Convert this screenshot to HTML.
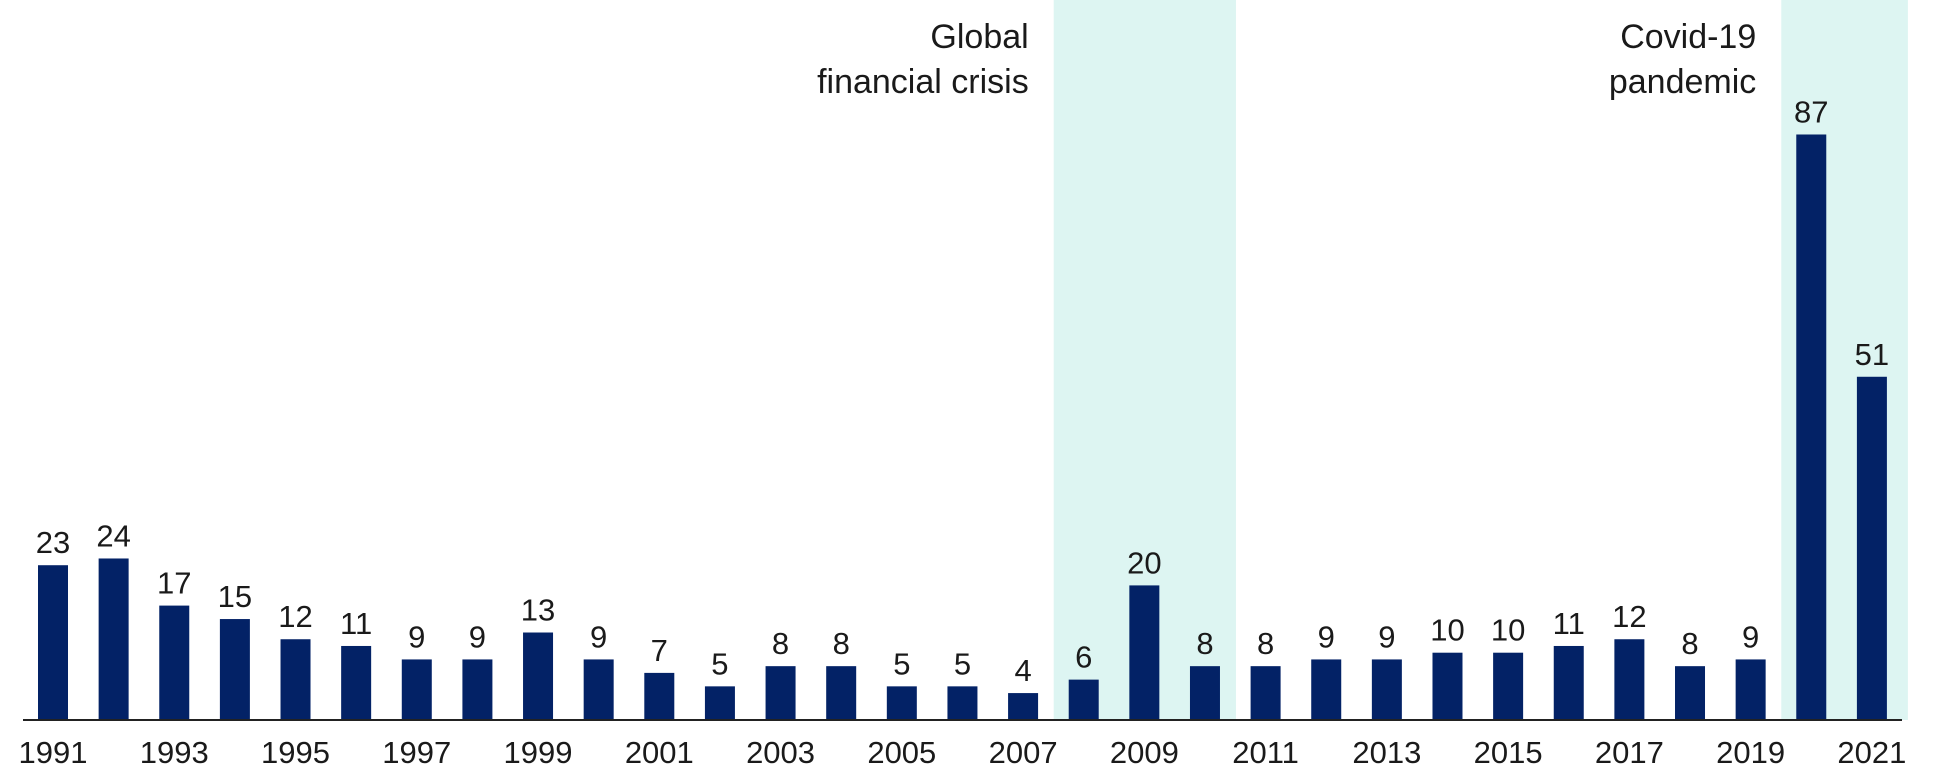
<!DOCTYPE html>
<html><head><meta charset="utf-8"><style>
html,body{margin:0;padding:0;background:#fff;}
svg{display:block;font-family:"Liberation Sans",sans-serif;}
</style></head><body>
<svg id="chart" width="1945" height="780" viewBox="0 0 1945 780" xmlns="http://www.w3.org/2000/svg">
<g id="shades"></g>
<g id="bars"></g>
<g id="labels"></g>
<g id="annotations"></g>
<line x1="23" y1="720" x2="1902" y2="720" stroke="#222" stroke-width="2"/>
<g id="xticks"></g>
</svg>
<script>
const years = [1991,1992,1993,1994,1995,1996,1997,1998,1999,2000,2001,2002,2003,2004,2005,2006,2007,2008,2009,2010,2011,2012,2013,2014,2015,2016,2017,2018,2019,2020,2021];
const values = [23,24,17,15,12,11,9,9,13,9,7,5,8,8,5,5,4,6,20,8,8,9,9,10,10,11,12,8,9,87,51];
const tickYears = [1991,1993,1995,1997,1999,2001,2003,2005,2007,2009,2011,2013,2015,2017,2019,2021];
const shadeRanges = [[2008,2010],[2020,2021]];
const annotationLines = [["Global","financial crisis"],["Covid-19","pandemic"]];

const NS="http://www.w3.org/2000/svg";
const baseY=720, perUnit=6.73, x0=38, pitch=60.63, bw=30;
function xPos(year){return x0+(year-years[0])*pitch;}
function yPos(v){return baseY-v*perUnit;}
function mk(tag,attrs){const e=document.createElementNS(NS,tag);for(const k in attrs)e.setAttribute(k,attrs[k]);return e;}

const shades=document.getElementById('shades');
shadeRanges.forEach((r,i)=>{
  const x1=xPos(r[0])-15, x2=xPos(r[1])+bw+(i===1?21:16);
  const rc=mk('rect',{x:x1,y:0,width:x2-x1,height:baseY,fill:'#ddf5f2'});
  
  
  shades.appendChild(rc);
});

const bars=document.getElementById('bars'), labels=document.getElementById('labels');
years.forEach((yr,i)=>{
  const v=values[i], x=xPos(yr), y=yPos(v);
  const b=mk('rect',{x:x,y:y,width:bw,height:baseY-y,fill:'#032266'});
  
  
  bars.appendChild(b);
  const t=mk('text',{x:x+bw/2,y:y-12,'text-anchor':'middle','font-size':'31',fill:'#1a1a1a'});
  t.textContent=v;
  
  
  labels.appendChild(t);
});

const xt=document.getElementById('xticks');
tickYears.forEach(yr=>{
  const t=mk('text',{x:xPos(yr)+bw/2,y:763,'text-anchor':'middle','font-size':'31',fill:'#1a1a1a'});
  t.textContent=yr;
  
  
  xt.appendChild(t);
});

const ann=document.getElementById('annotations');
shadeRanges.forEach((r,i)=>{
  const xr=xPos(r[0])-40;
  annotationLines[i].forEach((line,j)=>{
    const t=mk('text',{x:xr,y:48+j*45,'text-anchor':'end','font-size':'34',fill:'#1a1a1a'});
    t.textContent=line;
    
    
    ann.appendChild(t);
  });
});
</script>
</body></html>
